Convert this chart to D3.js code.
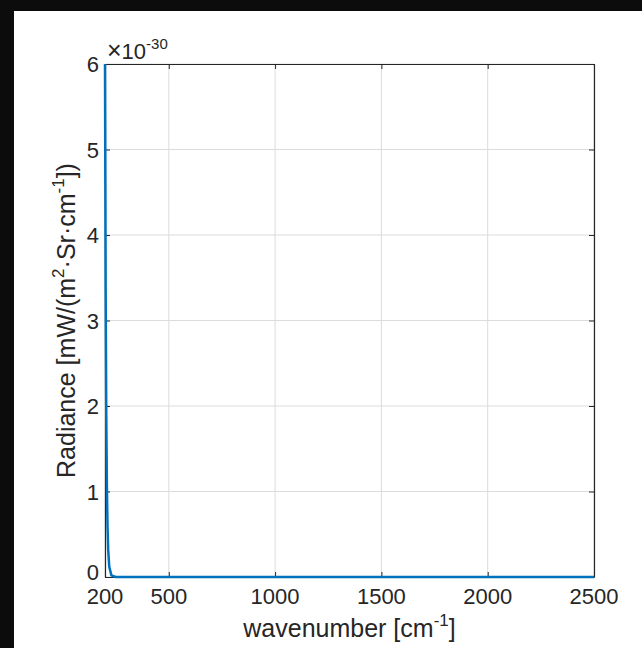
<!DOCTYPE html>
<html>
<head>
<meta charset="utf-8">
<script src="https://cdn.jsdelivr.net/npm/d3@7"></script>
<style>
  html, body { margin: 0; padding: 0; background: #0c0c0c; }
  #chart { position: absolute; left: 14px; top: 11px; }
  text { font-family: "Liberation Sans", Arial, Helvetica, sans-serif; fill: #262626; }
</style>
</head>
<body>
<div id="chart"></div>
<script>
// data (radiance in units of 1e-30)
var wavenumber = [200, 203, 206, 209, 212, 215, 220, 230, 250, 300, 500, 1000, 1500, 2000, 2500];
var radiance   = [6.0, 3.4, 1.9, 1.05, 0.58, 0.32, 0.12, 0.02, 0, 0, 0, 0, 0, 0, 0];
var xTicks = [200, 500, 1000, 1500, 2000, 2500];
var yTicks = [0, 1, 2, 3, 4, 5, 6];

var width = 628, height = 637;
var ox = 14, oy = 11;
var plotLeft = 105 - ox, plotRight = 594 - ox, plotTop = 64 - oy, plotBottom = 577 - oy;

var svg = d3.select('#chart')
    .append('svg')
    .attr('width', width)
    .attr('height', height)
    .style('background', '#ffffff');

var x = d3.scaleLinear().domain([200, 2500]).range([plotLeft, plotRight]);
var y = d3.scaleLinear().domain([0, 6]).range([plotBottom, plotTop]);

// grid
svg.append('g').selectAll('line').data(xTicks).enter().append('line')
    .attr('x1', d => x(d)).attr('x2', d => x(d))
    .attr('y1', plotTop).attr('y2', plotBottom)
    .attr('stroke', '#dcdcdc').attr('stroke-width', 1);
svg.append('g').selectAll('line').data(yTicks).enter().append('line')
    .attr('x1', plotLeft).attr('x2', plotRight)
    .attr('y1', d => y(d)).attr('y2', d => y(d))
    .attr('stroke', '#dcdcdc').attr('stroke-width', 1);

// axes (ticks inside, labels drawn separately)
var tl = 5;
svg.append('g').attr('transform', `translate(0,${plotBottom})`)
    .call(d3.axisTop(x).tickValues(xTicks).tickSize(tl).tickSizeOuter(0).tickFormat(''));
svg.append('g').attr('transform', `translate(0,${plotTop})`)
    .call(d3.axisBottom(x).tickValues(xTicks).tickSize(tl).tickSizeOuter(0).tickFormat(''));
svg.append('g').attr('transform', `translate(${plotLeft},0)`)
    .call(d3.axisRight(y).tickValues(yTicks).tickSize(tl).tickSizeOuter(0).tickFormat(''));
svg.append('g').attr('transform', `translate(${plotRight},0)`)
    .call(d3.axisLeft(y).tickValues(yTicks).tickSize(tl).tickSizeOuter(0).tickFormat(''));
svg.selectAll('.domain').attr('stroke', '#262626').attr('stroke-width', 1.2);
svg.selectAll('.tick line').attr('stroke', '#262626').attr('stroke-width', 1);

// line
var line = d3.line().x((d, i) => x(wavenumber[i])).y(d => y(d));
svg.append('path')
    .datum(radiance)
    .attr('d', line)
    .attr('fill', 'none')
    .attr('stroke', '#0072BD')
    .attr('stroke-width', 2.5);

// tick labels
svg.append('g').selectAll('text').data(xTicks).enter().append('text')
    .attr('x', d => x(d)).attr('y', plotBottom + 27)
    .attr('text-anchor', 'middle')
    .attr('font-size', '22px')
    .text(d => d);
svg.append('g').selectAll('text').data(yTicks).enter().append('text')
    .attr('x', plotLeft - 6).attr('y', d => y(d) + (d === 0 ? 3 : 8))
    .attr('text-anchor', 'end')
    .attr('font-size', '22px')
    .text(d => d);

// exponent
var ex = svg.append('text').attr('x', plotLeft + 2).attr('y', plotTop - 5).attr('font-size', '22px');
ex.append('tspan').attr('font-size', '25px').text('\u00d7');
ex.append('tspan').text('10');
ex.append('tspan').attr('dy', -10).attr('font-size', '15px').text('-30');

// x label
var xl = svg.append('text')
    .attr('x', (plotLeft + plotRight) / 2).attr('y', 637 - oy)
    .attr('text-anchor', 'middle').attr('font-size', '25px');
xl.append('tspan').text('wavenumber [cm');
xl.append('tspan').attr('dy', -11).attr('font-size', '17px').text('-1');
xl.append('tspan').attr('dy', 11).text(']');

// y label
var yl = svg.append('text')
    .attr('transform', `translate(${75 - ox},${(plotTop + plotBottom) / 2}) rotate(-90)`)
    .attr('text-anchor', 'middle').attr('font-size', '25px');
yl.append('tspan').text('Radiance [mW/(m');
yl.append('tspan').attr('dy', -11).attr('font-size', '17px').text('2');
yl.append('tspan').attr('dy', 11).text('\u00b7Sr\u00b7cm');
yl.append('tspan').attr('dy', -11).attr('font-size', '17px').text('-1');
yl.append('tspan').attr('dy', 11).text('])');
</script>
</body>
</html>
